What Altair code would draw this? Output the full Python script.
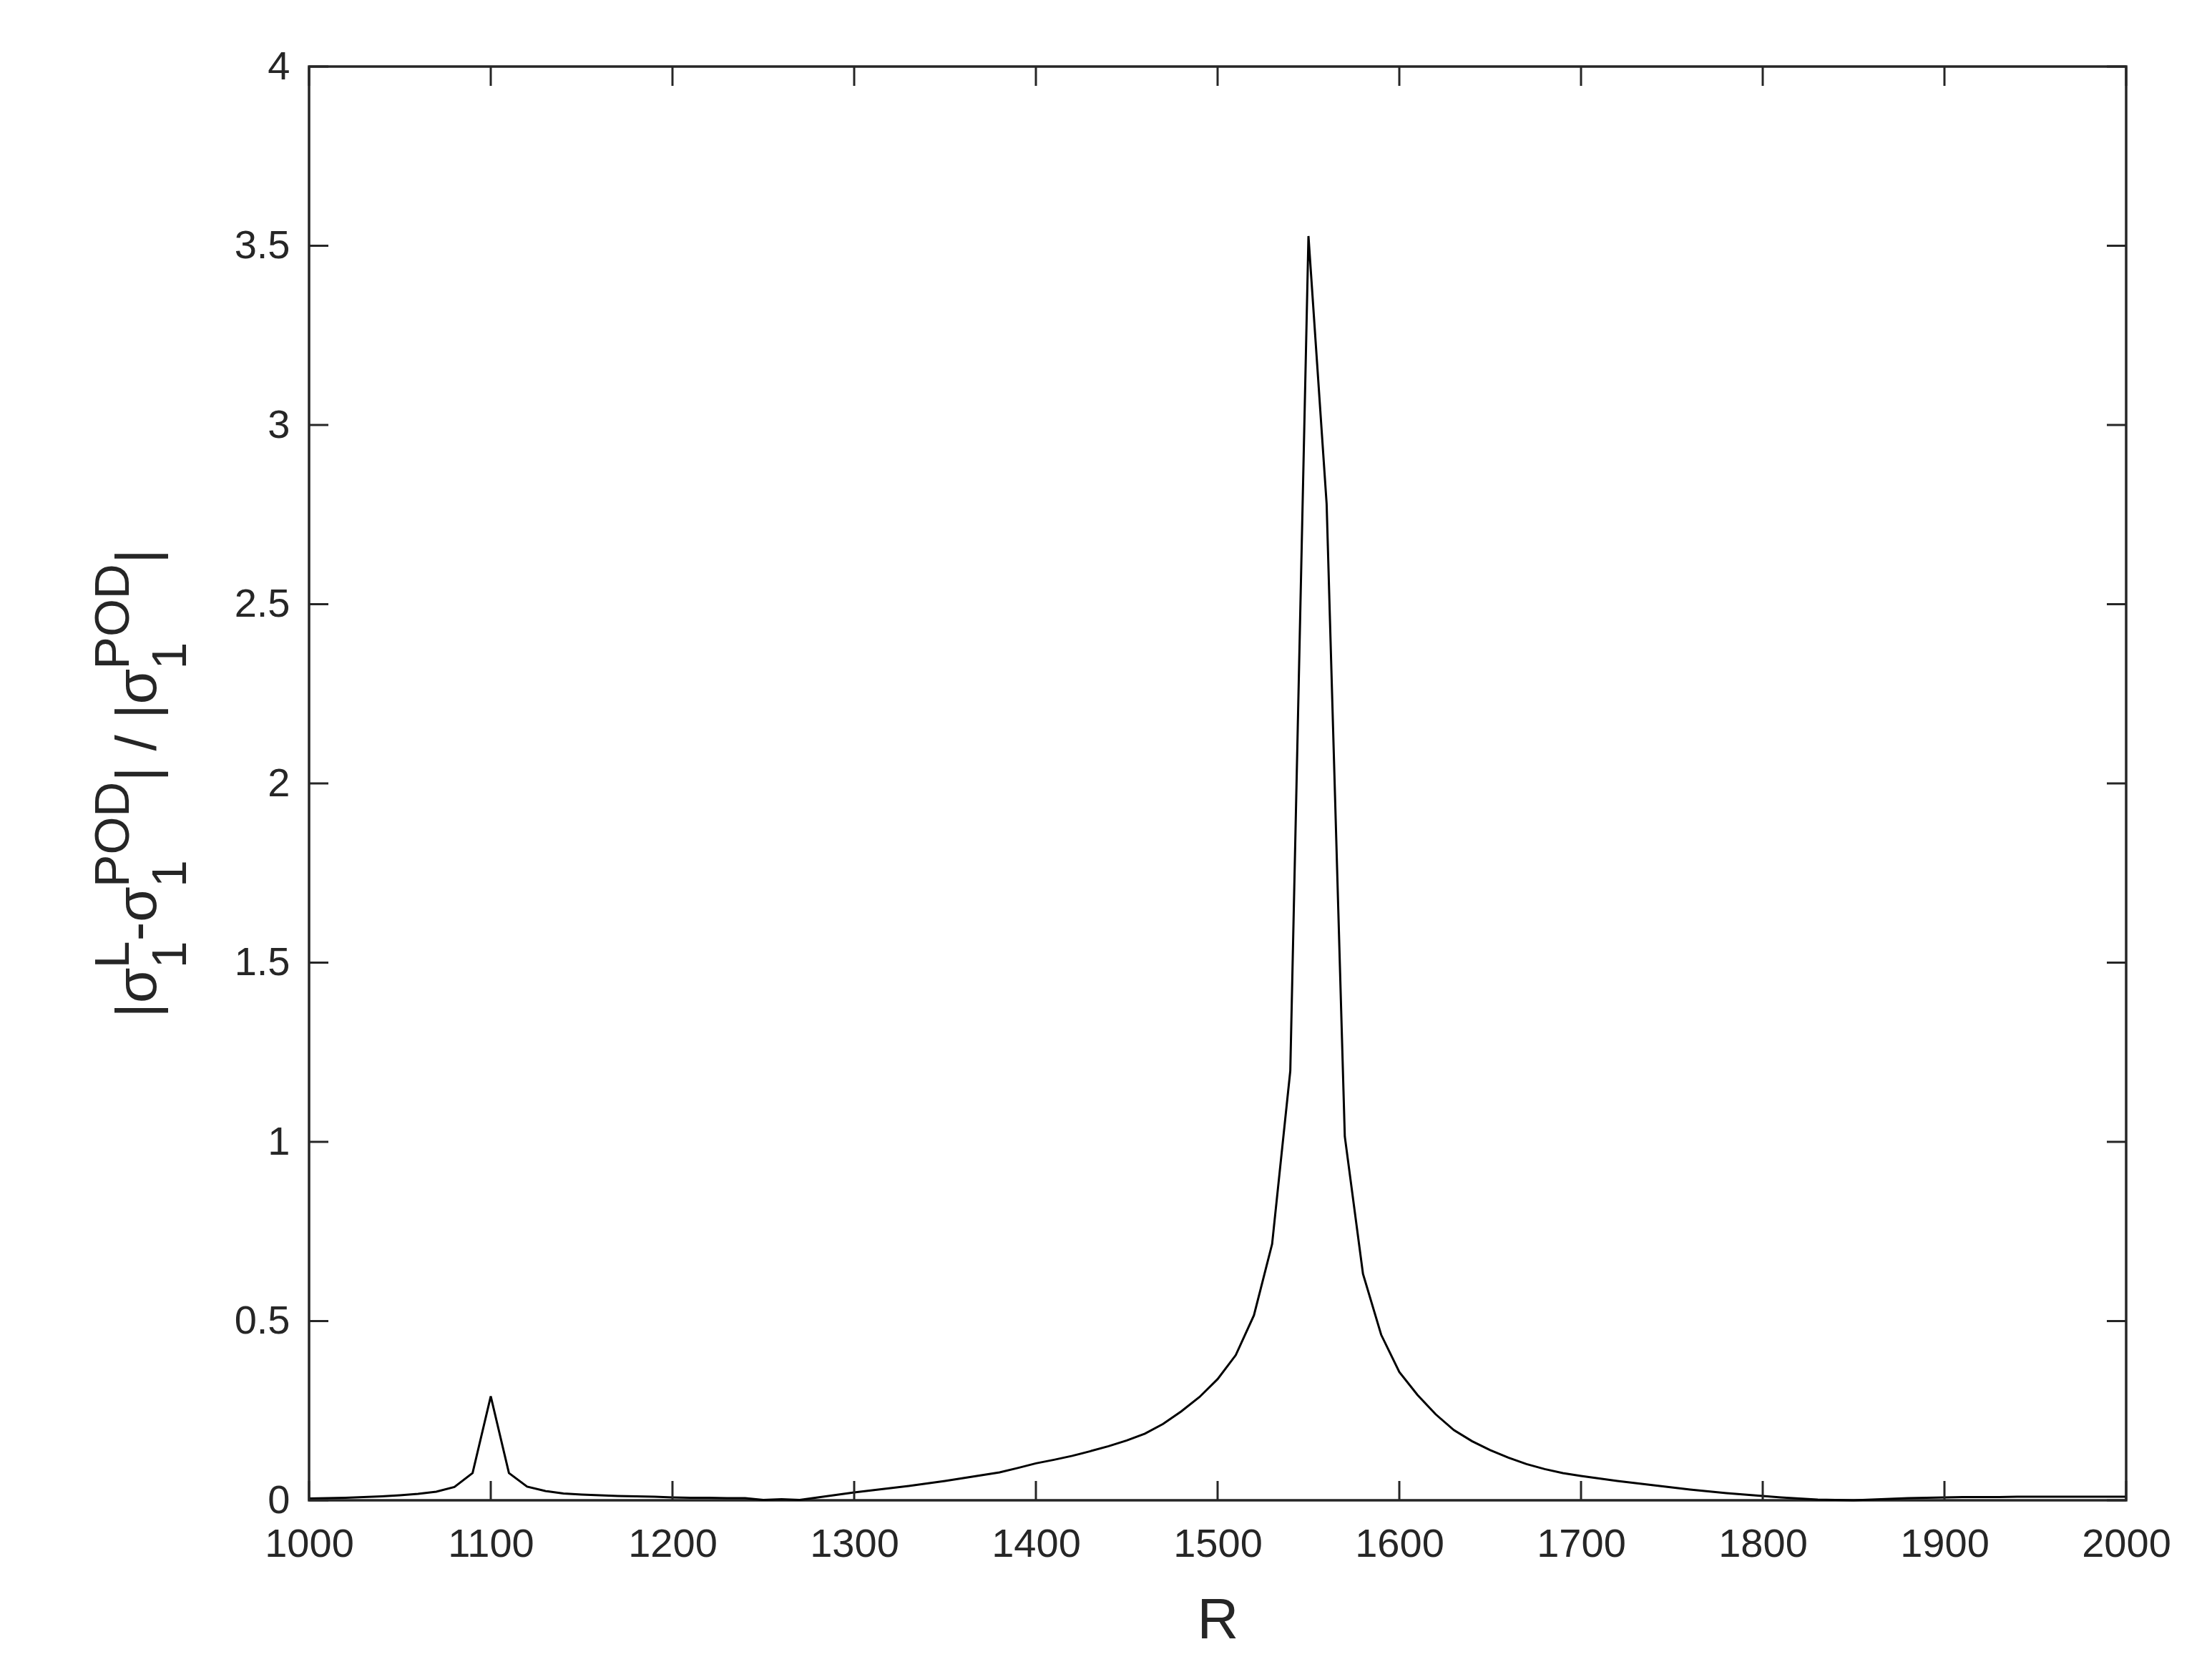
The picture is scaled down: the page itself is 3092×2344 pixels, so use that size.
import altair as alt
import pandas as pd

# ---------------- data ----------------
R_values = list(range(1000, 2001, 10))
rel_error = [
    0.005, 0.006, 0.007, 0.009, 0.011, 0.014, 0.018, 0.024, 0.037, 0.076,   # 1000-1090
    0.290, 0.076, 0.038, 0.026, 0.019, 0.016, 0.014, 0.012, 0.011, 0.010,   # 1100-1190
    0.008, 0.007, 0.007, 0.006, 0.006, 0.001, 0.003, 0.001, 0.008, 0.015,   # 1200-1290
    0.022, 0.028, 0.034, 0.040, 0.047, 0.054, 0.062, 0.070, 0.078, 0.090,   # 1300-1390
    0.103, 0.113, 0.124, 0.137, 0.151, 0.167, 0.186, 0.213, 0.248, 0.288,   # 1400-1490
    0.338, 0.405, 0.516, 0.715, 1.198, 3.527, 2.780, 1.015, 0.632, 0.462,   # 1500-1590
    0.358, 0.294, 0.240, 0.196, 0.165, 0.140, 0.119, 0.101, 0.087, 0.076,   # 1600-1690
    0.068, 0.061, 0.054, 0.048, 0.042, 0.036, 0.030, 0.025, 0.020, 0.016,   # 1700-1790
    0.012, 0.008, 0.005, 0.002, 0.001, 0.000, 0.002, 0.004, 0.006, 0.007,   # 1800-1890
    0.008, 0.009, 0.009, 0.009, 0.010, 0.010, 0.010, 0.010, 0.010, 0.010,   # 1900-1990
    0.010,                                                                  # 2000
]
x_ticks = list(range(1000, 2001, 100))
y_ticks = [0, 0.5, 1, 1.5, 2, 2.5, 3, 3.5, 4]
x_title = "R"

# ---------------- styling ----------------
W, H = 2540, 2004
INK = "#262626"
FONT = "Liberation Sans"
TICK_FS = 56
TICK_LEN = 27

df = pd.DataFrame({"R": R_values, "err": rel_error})
xs = alt.Scale(domain=[1000, 2000], nice=False, zero=False)
ys = alt.Scale(domain=[0, 4], nice=False, zero=False)
x_axis = alt.Axis(values=x_ticks, format="d", ticks=False, domain=False,
                  grid=False, labelPadding=34, labelFlush=False,
                  labelOverlap=False, title=x_title)
y_axis = alt.Axis(values=y_ticks, format=".1~f", ticks=False, domain=False,
                  grid=False, labelPadding=27, labelOverlap=False, title=None)

line = alt.Chart(df).mark_line(color="black", strokeWidth=3).encode(
    x=alt.X("R:Q", scale=xs, axis=x_axis),
    y=alt.Y("err:Q", scale=ys, axis=y_axis),
)

xt = pd.DataFrame({"R": x_ticks})
yt = pd.DataFrame({"err": y_ticks})
tick_style = dict(color=INK, strokeWidth=3)
bottom_ticks = alt.Chart(xt).mark_rule(**tick_style).encode(
    x=alt.X("R:Q", scale=xs, axis=x_axis), y=alt.value(H), y2=alt.value(H - TICK_LEN))
top_ticks = alt.Chart(xt).mark_rule(**tick_style).encode(
    x=alt.X("R:Q", scale=xs, axis=x_axis), y=alt.value(0), y2=alt.value(TICK_LEN))
left_ticks = alt.Chart(yt).mark_rule(**tick_style).encode(
    y=alt.Y("err:Q", scale=ys, axis=y_axis), x=alt.value(0), x2=alt.value(TICK_LEN))
right_ticks = alt.Chart(yt).mark_rule(**tick_style).encode(
    y=alt.Y("err:Q", scale=ys, axis=y_axis), x=alt.value(W), x2=alt.value(W - TICK_LEN))

# ---------------- composed y-axis title: |σ1^L - σ1^POD| / |σ1^POD| ----------------
F_MAIN, F_SCRIPT = 80, 68
ADV = {"|": 0.260, "σ": 0.610, "1": 0.556, "L": 0.556, "-": 0.333, "P": 0.667,
       "O": 0.778, "D": 0.722, " ": 0.278, "/": 0.278}


def adv(s, size):
    return sum(ADV[c] for c in s) * size


segments = [
    ("main", "|σ"),
    ("script", ("1", "L")),
    ("main", "-σ"),
    ("script", ("1", "POD")),
    ("main", "| / |σ"),
    ("script", ("1", "POD")),
    ("main", "|"),
]
X_MAIN, X_SUP, X_SUB = -214, -252, -172

total = 0.0
for kind, s in segments:
    total += adv(s, F_MAIN) if kind == "main" else max(adv(s[0], F_SCRIPT), adv(s[1], F_SCRIPT))

one = pd.DataFrame({"k": [0]})
title_layers = []
cur = H / 2 + total / 2


def txt(t, size, xpos, ypos):
    return alt.Chart(one).mark_text(
        text=t, angle=270, align="left", baseline="alphabetic",
        font=FONT, fontSize=size, color=INK,
    ).encode(x=alt.value(xpos), y=alt.value(ypos))


for kind, s in segments:
    if kind == "main":
        title_layers.append(txt(s, F_MAIN, X_MAIN, cur))
        cur -= adv(s, F_MAIN)
    else:
        sub, sup = s
        title_layers.append(txt(sub, F_SCRIPT, X_SUB, cur))
        title_layers.append(txt(sup, F_SCRIPT, X_SUP, cur))
        cur -= max(adv(sub, F_SCRIPT), adv(sup, F_SCRIPT))

chart = alt.layer(
    line, bottom_ticks, top_ticks, left_ticks, right_ticks, *title_layers
).properties(
    width=W, height=H,
    autosize=alt.AutoSizeParams(type="none"),
    padding={"left": 424, "top": 85, "right": 100, "bottom": 240},
    background="white",
).configure_view(
    stroke=INK, strokeWidth=3.5
).configure_axis(
    labelFont=FONT, labelFontSize=TICK_FS, labelColor=INK,
    titleFont=FONT, titleFontSize=80, titleColor=INK, titleFontWeight="normal",
    titlePadding=40,
)

chart.save("out.html", embed_options={"renderer": "svg", "actions": False})
